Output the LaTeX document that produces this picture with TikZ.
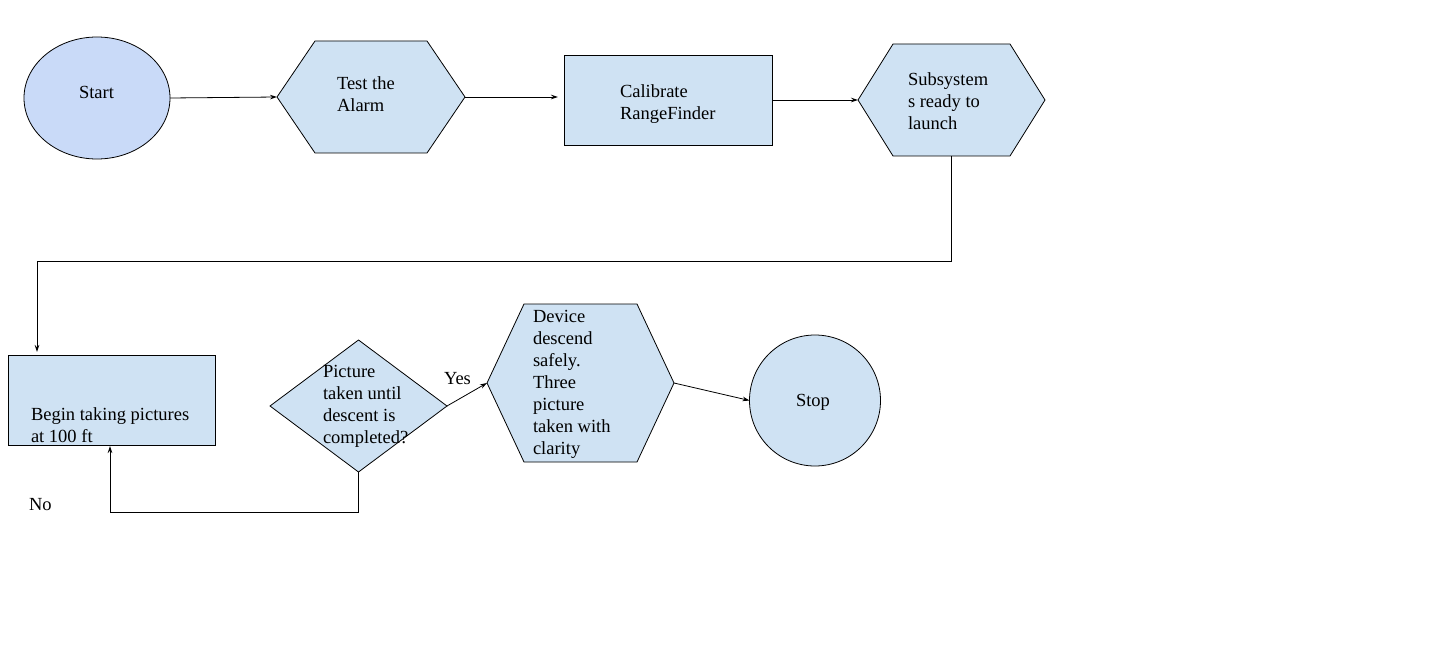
\documentclass[tikz,border=0pt]{standalone}
\usepackage{fontspec}
\setmainfont{Liberation Serif}
\usetikzlibrary{shapes.geometric,arrows.meta,calc}
\definecolor{startblue}{HTML}{C9DAF8}
\definecolor{boxblue}{HTML}{CFE2F3}
\tikzset{
  shapebase/.style={draw=black, line width=0.8pt, fill=boxblue, inner sep=0pt, outer sep=0pt},
  hexbox/.style={draw=none, fill=none, inner sep=0pt, outer sep=0pt, rectangle},
  hexfill/.style={draw=black, line width=0.8pt, fill=boxblue, line join=miter},
  txt/.style={inner sep=0pt, outer sep=0pt, align=left, anchor=west, font=\fontsize{18.5}{22}\selectfont},
  conn/.style={draw=black, line width=0.8pt},
  arr/.style={conn, -{Stealth[length=7pt,width=4.5pt]}}
}
\newcommand{\hexa}[6]{%
  \node[hexbox, minimum width=#4pt, minimum height=#5pt] (#1) at (#2,#3) {};
  \filldraw[hexfill] (#1.west) -- ([xshift=#6pt]#1.north west) -- ([xshift=-#6pt]#1.north east)
    -- (#1.east) -- ([xshift=-#6pt]#1.south east) -- ([xshift=#6pt]#1.south west) -- cycle;
}
\begin{document}
\begin{tikzpicture}[x=1pt,y=-1pt]
\useasboundingbox[fill=white] (0,0) rectangle (1443,647);

% shapes
\node[shapebase, ellipse, fill=startblue, minimum width=146pt, minimum height=122pt] (start) at (97,98) {};
\hexa{ta}{371}{97}{188}{112}{38}
\node[shapebase, rectangle, minimum width=208pt, minimum height=90pt] (cal) at (668,100) {};
\hexa{sub}{951.5}{100}{187}{112}{35}
\node[shapebase, rectangle, minimum width=207pt, minimum height=90pt] (begin) at (111.5,400) {};
\node[shapebase, diamond, minimum width=177pt, minimum height=132pt] (dia) at (358.5,406) {};
\hexa{dv}{580.5}{383}{187}{158}{37}
\node[shapebase, circle, minimum size=131pt] (stop) at (815,400.5) {};

% texts
\node[txt] (t-start) at (79,92.5) {Start};
\node[txt] (t-ta) at (337,94) {Test the\\Alarm};
\node[txt] (t-cal) at (620,104.5) {Calibrate\\RangeFinder};
\node[txt] (t-sub) at (908,101.5) {Subsystem\\s ready to\\launch};
\node[txt] (t-begin) at (31,425.5) {Begin taking pictures\\at 100 ft};
\node[txt] (t-dia) at (323,406) {Picture\\taken until\\descent is\\completed?};
\node[txt] (t-dv) at (533,384.5) {Device\\descend\\safely.\\Three\\picture\\taken with\\clarity};
\node[txt] (t-stop) at (796,402.5) {Stop};
\node[txt] (yes) at (444,379) {Yes};
\node[txt] (no) at (29,505) {No};

% connectors
\coordinate (j1) at (37,261);
\coordinate (j2) at (110,512);
\draw[arr] (start.east) -- (ta.west);
\draw[arr, shorten >=6pt] (ta.east) -- (ta.east -| cal.west);
\draw[arr] (cal.east) -- (sub.west);
\draw[conn] (sub.south) |- (j1);
\draw[arr, shorten >=3pt] (j1) -- (j1 |- begin.north);
\draw[conn] (dia.south) |- (j2);
\draw[arr, shorten >=1pt] (j2) -- (j2 |- begin.south);
\draw[arr] (dia.east) -- (dv.west);
\draw[arr] (dv.east) -- (stop.west);
\end{tikzpicture}
\end{document}
